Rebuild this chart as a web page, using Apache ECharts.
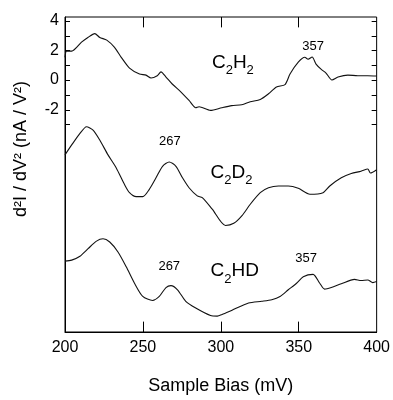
<!DOCTYPE html>
<html><head><meta charset="utf-8">
<script src="https://cdn.jsdelivr.net/npm/echarts@6/dist/echarts.min.js"></script>
<style>html,body{margin:0;padding:0;background:#fff}#c{width:393px;height:400px}</style>
</head><body><div id="c"></div>
<script>
// Sample bias (mV)
const c2h2X = [200,201,204.3,210.6,214.7,219.1,222.3,226.8,231.8,236.1,241.4,247.8,252,255.2,259.2,261.6,264.8,268.8,274.3,279.6,283.9,286,293.4,300.6,307,313.4,318.9,325.3,330.6,335.7,341.2,344.4,349.7,353.9,356,358.6,361.1,364.3,367.5,371.3,375.2,381.5,387.9,394.3,400];
const c2h2Y = [1.53,1.95,1.95,2.55,2.87,3.13,2.87,2.69,2.2,1.53,0.8,0.4,0.33,0.13,0.29,0.55,0.2,-0.27,-0.8,-1.38,-1.87,-1.8,-2.05,-1.87,-1.73,-1.67,-1.47,-1.31,-0.93,-0.47,-0.31,0.4,1.2,1.53,1.4,1.55,1.07,0.73,0.47,0,0.2,0.33,0.29,0.29,0.27];

const c2d2X = [200,204.3,209.6,213.8,218,222.3,227.6,232.9,238.2,241.4,245.7,249.9,254.1,258.4,262.6,266.9,271.2,275.4,279.6,284.9,288.1,294.5,303,308.3,313.6,318.9,325.3,330.6,337,343.3,349.7,357.2,365.6,369.9,377.3,383.7,390,394.3,396,400];
const c2d2Y = [-5.05,-4.38,-3.6,-3.15,-3.38,-4.05,-5.05,-5.93,-7.05,-7.6,-7.87,-7.87,-7.38,-6.6,-5.82,-5.53,-5.82,-6.6,-7.27,-7.82,-7.93,-8.71,-9.82,-9.67,-9.15,-8.38,-7.6,-7.27,-7.15,-7.15,-7.31,-7.71,-7.6,-7.15,-6.6,-6.31,-6.15,-6,-6.27,-6.05];

const c2hdX = [200,204.3,209.6,214.8,220.2,224.4,228.7,234,239.3,244.6,249.9,256.2,260.5,264.8,268,272.2,277.5,283.9,293.4,297.7,300.8,307.2,317.8,326.3,332.7,338,343.3,348.6,352.9,359.2,363.5,366.6,370.9,377.3,385.8,390,394.3,397.5,400];
const c2hdY = [-12.22,-12.15,-11.89,-11.38,-10.87,-10.71,-10.93,-11.6,-12.6,-13.71,-14.6,-14.87,-14.6,-14,-13.87,-14.15,-14.93,-15.38,-15.89,-15.93,-15.82,-15.53,-15.05,-14.93,-14.82,-14.6,-14.15,-13.71,-13.27,-13.11,-13.71,-14.11,-14,-13.75,-13.45,-13.53,-13.49,-13.67,-13.6];

const xTickLabels = [200,250,300,350,400];
const xTicks = [250,300,350];
const yTickLabels = [4,2,0,-2];
const yTicks = [4,3,2,1,0,-1,-2,-3];

// annotations: [text(rich), x, y, align]
const annotations = [
  ['{n|357}', 359.2, 2.27, 'center'],
  ['{b|C}{s|2}{b|H}{s|2}', 294.3, 1.27, 'left'],
  ['{n|267}', 267.3, -4.13, 'center'],
  ['{b|C}{s|2}{b|D}{s|2}', 293.4, -6.13, 'left'],
  ['{n|267}', 266.9, -12.6, 'center'],
  ['{b|C}{s|2}{b|HD}', 293.4, -12.8, 'left'],
  ['{n|357}', 354.8, -12.07, 'center']
];

const Y_MIN = -17, Y_MAX = 4.25, X_MIN = 200, X_MAX = 400;
const X_TICK_LEN = 0.7; // in y units (about 10 px)
const zip = (xs, ys) => xs.map((x, i) => [x, ys[i]]);
const FONT = 'Liberation Sans, Arial, Helvetica, sans-serif';
const TICK_STYLE = {stroke: '#000', lineWidth: 1};

const chart = echarts.init(document.getElementById('c'));
const lineSeries = (d, extra) => Object.assign({
  type: 'line', data: d, showSymbol: false, symbol: 'none', silent: true, smooth: 0.25,
  lineStyle: {color: '#111', width: 1.1}, xAxisIndex: 0, yAxisIndex: 0, animation: false
}, extra || {});

// x ticks (bottom + top) as mark lines in data coordinates
const xTickMarks = [];
xTicks.forEach(v => {
  xTickMarks.push([{coord: [v, Y_MIN]}, {coord: [v, Y_MIN + X_TICK_LEN]}]);
  xTickMarks.push([{coord: [v, Y_MAX]}, {coord: [v, Y_MAX - X_TICK_LEN]}]);
});

// y ticks (left + right) placed through the y scale
function renderYTick(params, api) {
  const l = api.coord([X_MIN, api.value(1)]);
  const r = api.coord([X_MAX, api.value(1)]);
  const yp = Math.round(l[1]) + 0.5;
  return {type: 'group', children: [
    {type: 'line', shape: {x1: l[0], y1: yp, x2: l[0] + 5, y2: yp}, style: TICK_STYLE},
    {type: 'line', shape: {x1: r[0], y1: yp, x2: r[0] - 5, y2: yp}, style: TICK_STYLE}
  ]};
}

chart.setOption({
  animation: false,
  backgroundColor: '#fff',
  grid: {left: 65, right: 14, top: 17, bottom: 64, show: true, borderColor: '#000', borderWidth: 1, backgroundColor: 'transparent'},
  xAxis: [
    {type: 'value', min: X_MIN, max: X_MAX, position: 'bottom',
     axisLine: {show: true, onZero: false, lineStyle: {color: '#000', width: 1}}, splitLine: {show: false},
     axisTick: {show: false},
     axisLabel: {customValues: xTickLabels, color: '#000', fontSize: 16, fontFamily: FONT, margin: 8},
     name: 'Sample Bias (mV)', nameLocation: 'middle', nameGap: 45,
     nameTextStyle: {color: '#000', fontSize: 18, fontFamily: FONT}}
  ],
  yAxis: [
    {type: 'value', min: Y_MIN, max: Y_MAX, position: 'left',
     axisLine: {show: true, onZero: false, lineStyle: {color: '#000', width: 1}}, splitLine: {show: false},
     axisTick: {show: false},
     axisLabel: {customValues: yTickLabels, color: '#000', fontSize: 16, fontFamily: FONT, margin: 6}}
  ],
  graphic: [{
    type: 'text', x: 21, y: 149, rotation: Math.PI / 2,
    style: {text: 'd²I / dV² (nA / V²)', font: '18px ' + FONT, fill: '#000', align: 'center', verticalAlign: 'middle'}
  }],
  series: [
    lineSeries(zip(c2h2X, c2h2Y), {
      markLine: {silent: true, symbol: ['none', 'none'], animation: false, label: {show: false},
        lineStyle: {color: '#000', width: 1, type: 'solid'}, emphasis: {disabled: true},
        data: xTickMarks}
    }),
    lineSeries(zip(c2d2X, c2d2Y)),
    lineSeries(zip(c2hdX, c2hdY)),
    {type: 'custom', silent: true, xAxisIndex: 0, yAxisIndex: 0, clip: false,
     data: yTicks.map(v => [X_MIN, v]), renderItem: renderYTick, encode: {x: 0, y: 1}},
    {type: 'scatter', symbolSize: 0, silent: true, xAxisIndex: 0, yAxisIndex: 0, itemStyle: {opacity: 1},
     data: annotations.map(a => ({value: [a[1], a[2]], label: {show: true, formatter: a[0], position: a[3] === 'left' ? 'right' : 'inside', distance: 0, align: a[3], verticalAlign: 'middle'}})),
     label: {color: '#000', fontFamily: FONT, textBorderWidth: 0, opacity: 1,
       rich: {
         n: {fontSize: 13, fontFamily: FONT, color: '#000', textBorderWidth: 0},
         b: {fontSize: 19, fontFamily: FONT, color: '#000', textBorderWidth: 0, verticalAlign: 'bottom', lineHeight: 22},
         s: {fontSize: 13, fontFamily: FONT, color: '#000', textBorderWidth: 0, verticalAlign: 'bottom', lineHeight: 22, padding: [0, 0, -5, 0]}
       }}}
  ]
});
</script></body></html>
